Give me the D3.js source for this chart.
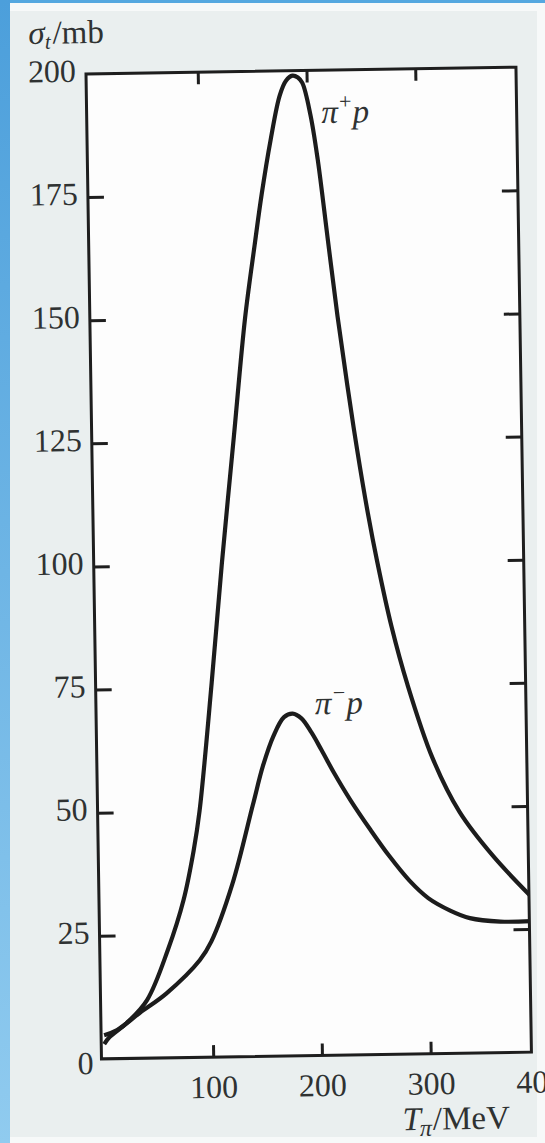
<!DOCTYPE html>
<html>
<head>
<meta charset="utf-8">
<script src="https://cdn.jsdelivr.net/npm/d3@7"></script>
<style>
  body { margin: 0; background: #f7f9f9; overflow: hidden; }
  text { font-family: "Liberation Serif", "Times New Roman", serif; fill: #2f3232; }
</style>
</head>
<body>
<script>
// pi+ p and pi- p total cross sections (mb) against pion kinetic energy (MeV)
var tPlus     = [0, 5, 21, 40, 60, 75, 85, 91, 104, 115, 128, 140, 150, 157, 166, 175, 181, 187, 192, 196, 203, 209, 217, 225, 233, 241, 250, 258, 270, 284, 306, 330, 360, 395];
var sigmaPlus = [3, 4.4, 7.2, 11.8, 22, 32, 42, 50, 76, 100, 126, 150, 165, 175, 186, 195, 198, 199, 198.6, 197.5, 191, 182, 166, 150, 136, 123, 110, 100, 87, 75, 60, 49, 40, 31.5];

var tMinus     = [0, 12, 33, 58, 89, 100, 120, 140, 150, 160, 170, 178, 186, 195, 204, 215, 230, 248, 265, 283, 300, 320, 338, 366, 395];
var sigmaMinus = [4.8, 5.8, 9.2, 13.1, 19.7, 23.5, 35, 51, 59, 65, 68.8, 69.5, 68.5, 65.6, 62, 57.4, 51.7, 45.6, 40.2, 35.2, 31.6, 29, 27.4, 26.6, 26.6];

var yTicks = [0, 25, 50, 75, 100, 125, 150, 175, 200];
var xTicks = [100, 200, 300, 400];

var w = 545, h = 1143;
var W = 430, H = 985;   // frame size before the scan tilt

var svg = d3.select("body").append("svg")
    .attr("width", w).attr("height", h);

// blue slide edge
var grad = svg.append("defs").append("linearGradient")
    .attr("id", "edge").attr("x1", 0).attr("y1", 0).attr("x2", 0).attr("y2", 1);
grad.append("stop").attr("offset", 0).attr("stop-color", "#4c9fdb");
grad.append("stop").attr("offset", 1).attr("stop-color", "#90cbef");

svg.append("rect").attr("x", 10).attr("y", 11).attr("width", 527).attr("height", 1126)
    .attr("fill", "#eaefef");
svg.append("rect").attr("x", 0).attr("y", 0).attr("width", w).attr("height", 3)
    .attr("fill", "#55a8e0");
svg.append("rect").attr("x", 0).attr("y", 0).attr("width", 10).attr("height", h)
    .attr("fill", "url(#edge)");

// the scanned page sits a little tilted
var g = svg.append("g").attr("transform", "translate(86,74) rotate(-0.9)");

var x = d3.scaleLinear().domain([0, 400]).range([3, 438]);
var y = d3.scaleLinear().domain([0, 200]).range([H, 0]);

g.append("rect").attr("width", W).attr("height", H).attr("fill", "#fdfdfd");

g.append("clipPath").attr("id", "frame")
  .append("rect").attr("width", W).attr("height", H);

var line = d3.line()
    .x(function(d) { return x(d[0]) })
    .y(function(d) { return y(d[1]) })
    .curve(d3.curveCatmullRom.alpha(0.5));

var curves = [
  d3.zip(tPlus, sigmaPlus),
  d3.zip(tMinus, sigmaMinus)
];

g.append("g").attr("clip-path", "url(#frame)")
  .selectAll("path").data(curves)
  .enter().append("path")
    .attr("d", line)
    .attr("fill", "none")
    .attr("stroke", "#1c1c1c")
    .attr("stroke-width", 4.2)
    .attr("stroke-linejoin", "round");

// axes: inward ticks on all four sides, labels left and bottom
var axLeft = g.append("g")
    .call(d3.axisLeft(y).tickValues(yTicks).tickSize(-16).tickPadding(10));
var axRight = g.append("g").attr("transform", "translate(" + W + ",0)")
    .call(d3.axisRight(y).tickValues(yTicks.slice(1, -1)).tickSize(-16).tickFormat(""));
var axBottom = g.append("g").attr("transform", "translate(0," + H + ")")
    .call(d3.axisBottom(x).tickValues(xTicks).tickSize(-12).tickPadding(18));
var axTop = g.append("g")
    .call(d3.axisTop(x).tickValues(xTicks.slice(0, -1)).tickSize(-12).tickFormat(""));

[axLeft, axRight, axBottom, axTop].forEach(function(a) {
  a.select(".domain").remove();
  a.selectAll(".tick line").attr("stroke", "#1e1e1e").attr("stroke-width", 3);
  a.selectAll(".tick text")
    .attr("font-family", "Liberation Serif")
    .attr("font-size", 32)
    .attr("fill", "#333636");
});

axLeft.selectAll(".tick").filter(function(d) { return d == 0 || d == 200 })
    .select("line").remove();
axLeft.selectAll(".tick text").attr("dy", "0.22em");
axLeft.selectAll(".tick").filter(function(d) { return d == 0 })
    .select("text").attr("dy", "0.45em").attr("x", -8);
axBottom.selectAll(".tick").filter(function(d) { return d == 400 })
    .select("line").remove();

g.append("rect").attr("width", W).attr("height", H)
    .attr("fill", "none").attr("stroke", "#1e1e1e").attr("stroke-width", 3);

// axis titles
var yt = g.append("text").attr("x", -57).attr("y", -31).attr("font-size", 33);
yt.append("tspan").attr("font-style", "italic").text("σ");
yt.append("tspan").attr("font-style", "italic").attr("font-size", 21).attr("dy", 5).text("t");
yt.append("tspan").attr("dy", -5).attr("dx", 2).text("/mb");

var xt = g.append("text").attr("x", 300).attr("y", H + 76).attr("font-size", 33);
xt.append("tspan").attr("font-style", "italic").text("T");
xt.append("tspan").attr("font-style", "italic").attr("font-size", 24).attr("dy", 6).attr("dx", -1).text("π");
xt.append("tspan").attr("dy", -6).attr("dx", 1).text("/MeV");

// curve labels
var lp = g.append("text").attr("x", x(213)).attr("y", y(189.3)).attr("font-size", 33)
    .attr("font-style", "italic");
lp.append("tspan").text("π");
lp.append("tspan").attr("font-size", 22).attr("dy", -14).text("+");
lp.append("tspan").attr("dy", 14).text("p");

var lm = g.append("text").attr("x", x(198.6)).attr("y", y(69.3)).attr("font-size", 33)
    .attr("font-style", "italic");
lm.append("tspan").text("π");
lm.append("tspan").attr("font-size", 22).attr("dy", -14).text("−");
lm.append("tspan").attr("dy", 14).text("p");
</script>
</body>
</html>
